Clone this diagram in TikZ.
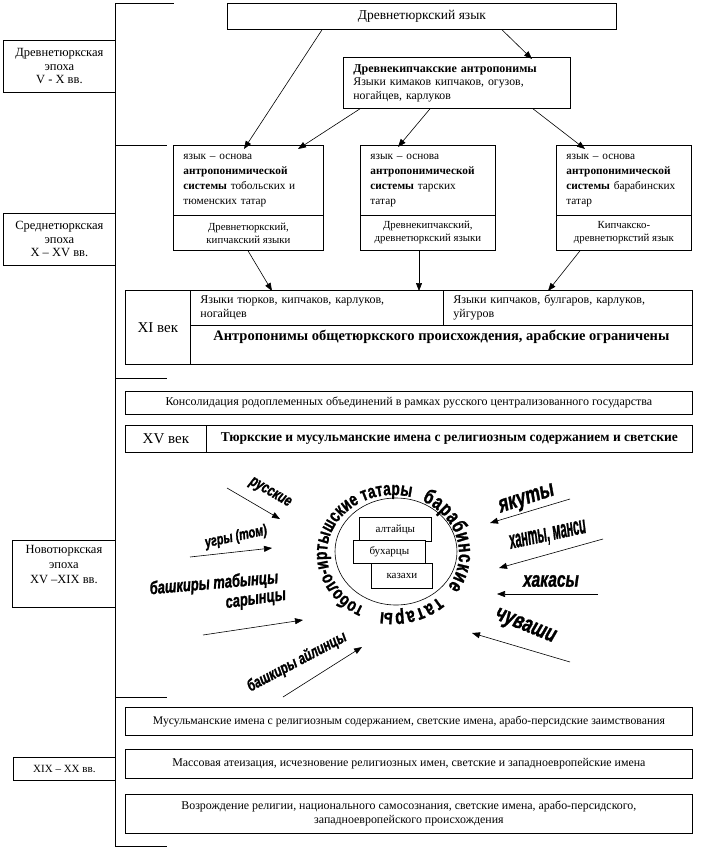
\documentclass[tikz,border=0pt]{standalone}
\usepackage{fontspec}
\setmainfont{Liberation Serif}
\newfontfamily\wafont[FakeStretch=0.72, FakeBold=1.2]{Liberation Sans}
\usepackage{tikz}
\usetikzlibrary{positioning, arrows.meta, decorations.text, calc}

\newcommand{\fs}[2]{\fontsize{#1}{#2}\selectfont}
\newcommand{\ethnosfont}{\wafont\bfseries\itshape\fs{18}{18}}
\newcommand{\ringfont}{\wafont\bfseries\fs{19}{19}}
\newcommand{\bigringfont}{\wafont\bfseries\fs{21}{21}}

\tikzset{
  box/.style={draw, line width=0.8pt, fill=white, inner sep=0pt, anchor=north west, align=center},
  leftbox/.style={box, inner xsep=10pt, align=left},
  arr/.style={-{Triangle[length=8pt,width=6pt]}, line width=0.6pt},
  ethnos/.style={font=\ethnosfont, inner sep=0pt, transform shape},
  ring/.style={decorate, decoration={text along path, text align={fit to path}, text={#1}}},
}

\begin{document}
\begin{tikzpicture}[x=1pt, y=-1pt]
    \useasboundingbox (0,0) rectangle (713,849);

    % Time axis
    \coordinate (t0) at (115,3);
    \coordinate (t5) at (115,846);
    \draw[line width=0.8pt] (t0) -- (t5);
    \foreach \y/\len in {3/59, 145/52, 378/52, 697/52, 846/52}
        \draw[line width=0.8pt] (115,\y) -- ++(\len,0);

    % Epochs
    \node[box, minimum width=112, minimum height=52, font={\fs{12.5}{13.5}}] (ep1) at (3,40) {Древнетюркская\\эпоха\\V - X вв.};
    \node[box, minimum width=112, minimum height=52, font={\fs{12.5}{13.5}}] (ep2) at (3,213) {Среднетюркская\\эпоха\\X – XV вв.};
    \node[box, minimum width=103, minimum height=67, font={\fs{12.5}{15}}] (ep3) at (12,540) {Новотюркская\\эпоха\\XV –XIX вв.\\[5pt]};
    \node[box, minimum width=102, minimum height=23, font={\fs{11}{13}}] (ep4) at (13,757) {XIX – XX вв.};

    % Old Turkic layer
    \node[box, minimum width=389, minimum height=26, font={\fs{13.5}{15}}] (lang) at (227,3) {Древнетюркский язык};
    \node[leftbox, text width=207, minimum height=51, font={\fs{11.8}{13.5}}] (kip) at (343,57)
        {{\fs{12}{13.5}\textbf{Древнекипчакские антропонимы}}\\Языки кимаков кипчаков, огузов,\\ногайцев, карлуков};

    % Three anthroponymic systems
    \node[leftbox, text width=130, minimum height=70, font={\fs{11.3}{15}}] (tob) at (173,145)
        {язык – основа\\\textbf{антропонимической}\\\textbf{системы} тобольских и\\тюменских татар};
    \node[box, minimum width=150, minimum height=35, font={\fs{10.8}{13}}] (toblow) at (173,215) {Древнетюркский,\\кипчакский языки};
    \node[leftbox, text width=115, minimum height=70, font={\fs{11.3}{15}}] (tar) at (360,145)
        {язык – основа\\\textbf{антропонимической}\\\textbf{системы} тарских\\татар};
    \node[box, minimum width=135, minimum height=35, font={\fs{10.8}{13}}] (tarlow) at (360,215) {Древнекипчакский,\\древнетюркский языки};
    \node[leftbox, text width=115, minimum height=70, font={\fs{11.3}{15}}] (bar) at (556,145)
        {язык – основа\\\textbf{антропонимической}\\\textbf{системы} барабинских\\татар};
    \node[box, minimum width=135, minimum height=35, font={\fs{10.8}{13}}] (barlow) at (556,215) {Кипчакско-\\древнетюркстий язык};

    % XI century
    \node[box, minimum width=65, minimum height=74, font={\fs{15}{17}}] (xi) at (125,290) {XI век};
    \node[leftbox, text width=233, minimum height=35, font={\fs{12}{14}}] (xil) at (190,290)
        {Языки тюрков, кипчаков, карлуков,\\ногайцев};
    \node[leftbox, text width=229, minimum height=35, font={\fs{12}{14}}] (xir) at (443,290)
        {Языки кипчаков, булгаров, карлуков,\\уйгуров};
    \node[box, minimum width=502, minimum height=39, font={\fs{14.5}{16}\bfseries}] (xianth) at (190,325)
        {Антропонимы общетюркского происхождения, арабские ограничены\\[4pt]};

    % XV century
    \node[box, minimum width=567, minimum height=23, font={\fs{12}{13}}] (cons) at (125,391)
        {Консолидация родоплеменных объединений в рамках русского централизованного государства};
    \node[box, minimum width=81, minimum height=27, font={\fs{15}{16}}] (xv) at (125,425) {XV век};
    \node[box, minimum width=486, minimum height=27, font={\fs{13.5}{15}\bfseries}] (xvnames) at (206,425)
        {Тюркские и мусульманские имена с религиозным содержанием и светские};

    % Arrows between layers
    \draw[arr] ([xshift=95]lang.south west) -- ([xshift=71,yshift=-4]tob.north west);
    \draw[arr] ([xshift=275]lang.south west) -- ([xshift=189,yshift=-2]kip.north west);
    \draw[arr] ([xshift=17]kip.south west) -- ([xshift=125,yshift=-4]tob.north west);
    \draw[arr] ([xshift=87]kip.south west) -- ([xshift=38,yshift=-2]tar.north west);
    \draw[arr] ([xshift=190]kip.south west) -- ([xshift=29,yshift=-4]bar.north west);
    \draw[arr] ([xshift=75]toblow.south west) -- ([xshift=82,yshift=-1]xil.north west);
    \draw[arr] ([xshift=59]tarlow.south west) -- ([xshift=229,yshift=-1]xil.north west);
    \draw[arr] ([xshift=24]barlow.south west) -- ([xshift=105,yshift=-1]xir.north west);

    % Peoples around the Tatars
    \draw[line width=0.6pt] (396,551.5) ellipse [x radius=61, y radius=53.5];
    \node[box, minimum width=72, minimum height=24, font={\fs{11}{12}}] (alt) at (359,517) {алтайцы};
    \node[box, minimum width=72, minimum height=23, font={\fs{11}{12}}] (buh) at (353,540) {бухарцы};
    \node[box, minimum width=61, minimum height=25, font={\fs{11}{12}}] (kaz) at (371,563) {казахи};

    \path[ring={|\ringfont|тоболо-иртышские татары}] (393,554) ++(-244:66 and 59) arc[start angle=-244, end angle=-74, x radius=66, y radius=59];
    \path[ring={|\bigringfont|барабинские}] (393,554) ++(-64:66 and 59) arc[start angle=-64, end angle=34, x radius=66, y radius=59];
    \path[ring={|\bigringfont|татары}] (393,554) ++(47:66 and 59) arc[start angle=47, end angle=101, x radius=66, y radius=59];

    \node[ethnos, rotate=-30, scale=0.9] (rus) at (270,493) {русские};
    \node[ethnos, rotate=12, scale=0.85] (ugr) at (236,537) {угры (том)};
    \node[ethnos, rotate=5] (btab) at (214,584) {башкиры табынцы};
    \node[ethnos, rotate=8] (sar) at (256,601) {сарынцы};
    \node[ethnos, rotate=28, scale=0.9] (bajl) at (297,662) {башкиры айлинцы};
    \node[ethnos, rotate=18, scale=1.3] (yak) at (527,500) {якуты};
    \node[ethnos, rotate=12, xscale=0.85, yscale=1.4] (han) at (548,536) {ханты, манси};
    \node[ethnos, scale=1.2] (hak) at (551,581) {хакасы};
    \node[ethnos, rotate=-22, scale=1.3] (chu) at (525,627) {чуваши};

    \coordinate (rus-s) at (227,488);  \coordinate (rus-e) at (280,519);
    \coordinate (ugr-s) at (190,557);  \coordinate (ugr-e) at (272,548);
    \coordinate (sar-s) at (203,635);  \coordinate (sar-e) at (303,620);
    \coordinate (ajl-s) at (283,697);  \coordinate (ajl-e) at (362,647);
    \coordinate (yak-s) at (570,499);  \coordinate (yak-e) at (490,523);
    \coordinate (han-s) at (603,539);  \coordinate (han-e) at (499,568);
    \coordinate (hak-s) at (598,594);  \coordinate (hak-e) at (497,594);
    \coordinate (chu-s) at (570,662);  \coordinate (chu-e) at (472,633);
    \foreach \p in {rus, ugr, sar, ajl, yak, han, hak, chu}
        \draw[arr] (\p-s) -- (\p-e);

    % XIX-XX centuries
    \node[box, minimum width=567, minimum height=28, font={\fs{11.7}{13}}] (musl) at (125,707)
        {Мусульманские имена с религиозным содержанием, светские имена, арабо-персидские заимствования};
    \node[box, minimum width=567, minimum height=29, font={\fs{11.9}{13}}] (ath) at (125,749)
        {Массовая атеизация, исчезновение религиозных имен, светские и западноевропейские имена};
    \node[box, minimum width=567, minimum height=39, font={\fs{11.9}{14}}] (rev) at (125,794)
        {Возрождение религии, национального самосознания, светские имена, арабо-персидского,\\западноевропейского происхождения};
\end{tikzpicture}
\end{document}
